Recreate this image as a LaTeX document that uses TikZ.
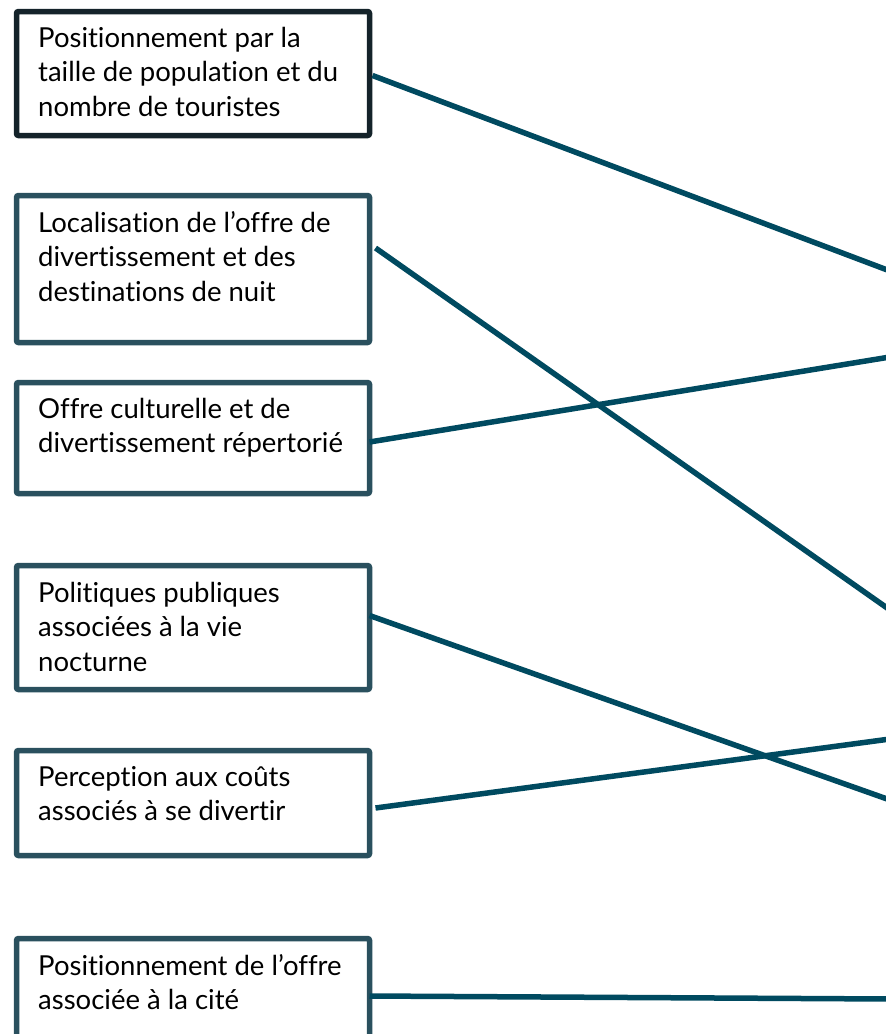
\documentclass[tikz,border=0pt]{standalone}
\usepackage{fontspec}
\setmainfont[Ligatures=NoCommon]{Lato}
\usetikzlibrary{calc}
\definecolor{boxc}{RGB}{42,80,94}
\definecolor{boxdark}{RGB}{20,35,42}
\definecolor{linec}{RGB}{0,74,96}
\tikzset{
  frame/.style={draw=boxc, line width=5.5pt, rounded corners=2pt, fill=white, minimum width=353pt, anchor=north west, inner sep=0pt, outer sep=0pt},
  label text/.style={anchor=north west, inner sep=0pt, align=left, font=\fontsize{27.5}{34.5}\selectfont, text=black},
  link/.style={draw=linec, line width=5.5pt}
}
\begin{document}
\begin{tikzpicture}[x=1pt,y=-1pt]
\useasboundingbox (0,0) rectangle (886,1034);
\clip (0,0) rectangle (886,1034);
\fill[white] (0,0) rectangle (886,1034);
% free ends at the right edge
\coordinate (t1) at (890,271);
\coordinate (t2) at (890,610);
\coordinate (t3) at (890,357);
\coordinate (t4) at (890,800);
\coordinate (t5) at (890,739);
\coordinate (t6) at (890,999);
% boxes
\node[frame, draw=boxdark, minimum height=124pt] (b1) at (16.5,11.5) {};
\node[frame, minimum height=147pt] (b2) at (16.5,195.5) {};
\node[frame, minimum height=111pt] (b3) at (16.5,382.5) {};
\node[frame, minimum height=124pt] (b4) at (16.5,565.5) {};
\node[frame, minimum height=105pt] (b5) at (16.5,750.5) {};
\node[frame, minimum height=122pt] (b6) at (16.5,938.5) {};
% texts
\node[label text] (x1) at (38,27) {Positionnement par la\\taille de population et du\\nombre de touristes};
\node[label text] (x2) at (38,211) {Localisation de l’offre de\\divertissement et des\\destinations de nuit};
\node[label text] (x3) at (38,398) {Offre culturelle et de\\divertissement répertorié};
\node[label text] (x4) at (38,582) {Politiques publiques\\associées à la vie\\nocturne};
\node[label text] (x5) at (38,766) {Perception aux coûts\\associés à se divertir};
\node[label text] (x6) at (38,954) {Positionnement de l’offre\\associée à la cité};
% connectors
\draw[link] ($(b1.east)+(3,2)$) -- (t1);
\draw[link] ($(b2.east)+(6,-21)$) -- (t2);
\draw[link] ($(b3.east)+(0,4)$) -- (t3);
\draw[link] ($(b4.east)+(0,-12)$) -- (t4);
\draw[link] ($(b5.east)+(6,5)$) -- (t5);
\draw[link] ($(b6.east)+(0,-3.5)$) -- (t6);
\end{tikzpicture}
\end{document}
